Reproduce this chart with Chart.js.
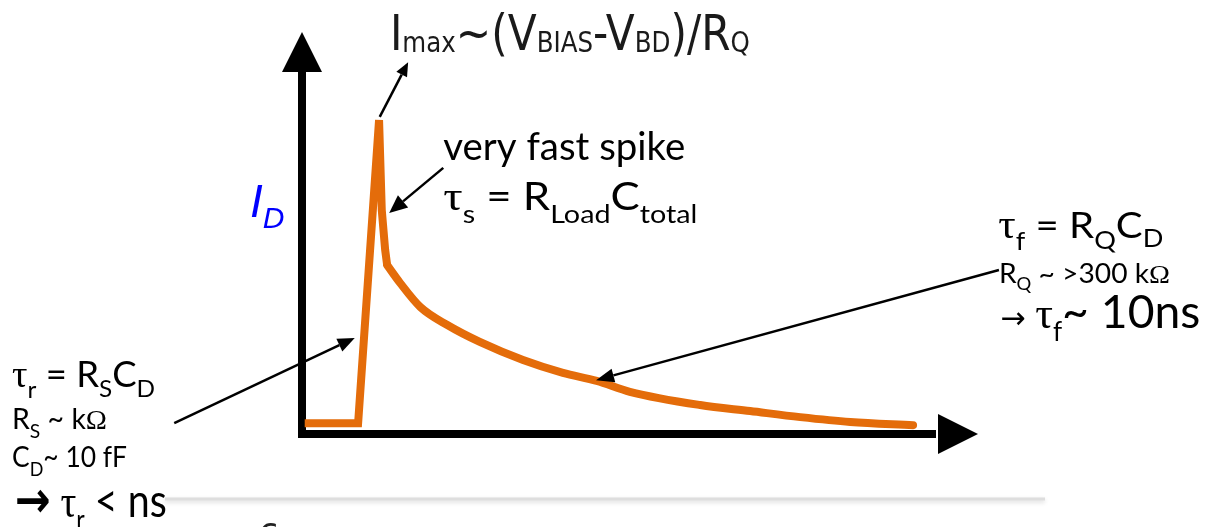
<!DOCTYPE html>
<html>
<head>
<meta charset="utf-8">
<script src="https://cdn.jsdelivr.net/npm/chart.js@4.4.1/dist/chart.umd.min.js"></script>
<style>
  html, body { margin: 0; padding: 0; background: #fff; }
  #wrap { width: 1205px; height: 527px; }
</style>
</head>
<body>
<div id="wrap"><canvas id="pulse" width="1205" height="527"></canvas></div>
<script>
// Pulse shape (arbitrary units, 0..100 on both axes)
const timeAxis = [0.4, 8.3, 11.4, 11.8, 12.3, 12.6, 14.5, 17.5, 21.5, 26.3, 32.7, 38.6, 43.6, 48.5, 58.9, 66.3, 73.7, 81.1, 90.4];
const currentId = [2.7, 2.7, 78.1, 55.7, 45.8, 42.0, 37.6, 31.6, 27.1, 22.9, 18.4, 15.2, 13.2, 10.5, 7.2, 5.7, 4.2, 3.0, 2.2];
// the spike is drawn with sharp corners, the slow tail is smoothed
const spikeEnd = 5;

const SANS = 'Lato, "Open Sans", sans-serif';
const SERIF = '"Liberation Serif", "DejaVu Serif", serif';
const GOTHIC = '"DejaVu Sans", sans-serif';

// arrows: from / to in data units, head size in px
const arrows = [
    { from: [11.5, 78.9], to: [15.7, 92.5], head: 14, half: 6 },
    { from: [20.9, 66.2], to: [12.9, 55.0], head: 18, half: 8 },
    { from: [-18.9, 2.7], to: [7.8, 23.9], head: 17, half: 7 },
    { from: [103.1, 40.8], to: [43.5, 13.4], head: 18, half: 7 }
];

// text blocks, anchored at left/baseline in data units
const labels = [
    { at: [13.0, 95.5], fit: 360, color: '#1a1a1a', runs: [
        { t: 'I', s: 50, f: GOTHIC }, { t: 'max', s: 29, f: GOTHIC, dy: 2 },
        { t: '~(V', s: 50, f: GOTHIC }, { t: 'BIAS', s: 29, f: GOTHIC, dy: 2 },
        { t: '-V', s: 50, f: GOTHIC }, { t: 'BD', s: 29, f: GOTHIC, dy: 2 },
        { t: ')/R', s: 50, f: GOTHIC }, { t: 'Q', s: 29, f: GOTHIC, dy: 2 } ] },
    { at: [20.9, 68.2], fit: 242, runs: [ { t: 'very fast spike', s: 38 } ] },
    { at: [20.9, 55.7], fit: 254, runs: [
        { t: 'τ', s: 42, f: SERIF }, { t: 's', s: 25, dy: 13 },
        { t: ' = R', s: 38 }, { t: 'Load', s: 25, dy: 13 },
        { t: 'C', s: 38 }, { t: 'total', s: 25, dy: 13 } ] },
    { at: [-7.7, 54.0], color: '#0000ff', runs: [
        { t: 'I', s: 46, f: 'Arial, "Liberation Sans", sans-serif', st: 'italic' },
        { t: 'D', s: 30, f: 'Arial, "Liberation Sans", sans-serif', st: 'italic', dy: 11 } ] },
    { at: [103.0, 48.8], fit: 165, runs: [
        { t: 'τ', s: 40, f: SERIF }, { t: 'f', s: 25, dy: 12 },
        { t: ' = R', s: 37 }, { t: 'Q', s: 25, dy: 11 },
        { t: 'C', s: 37 }, { t: 'D', s: 25, dy: 9 } ] },
    { at: [103.1, 37.6], fit: 171, runs: [
        { t: 'R', s: 26 }, { t: 'Q', s: 17, dy: 7 },
        { t: ' ~ >300 k', s: 26 }, { t: 'Ω', s: 26, f: SERIF } ] },
    { at: [103.3, 26.4], fit: 200, runs: [
        { t: '→ ', s: 30, f: GOTHIC }, { t: 'τ', s: 44, f: SERIF }, { t: 'f', s: 26, dy: 13 },
        { t: '~ 10ns', s: 46 } ] },
    { at: [-42.9, 11.7], fit: 143, runs: [
        { t: 'τ', s: 38, f: SERIF }, { t: 'r', s: 24, dy: 11 },
        { t: ' = R', s: 36 }, { t: 'S', s: 24, dy: 10 },
        { t: 'C', s: 36 }, { t: 'D', s: 24, dy: 10 } ] },
    { at: [-42.9, 1.2], fit: 95, runs: [
        { t: 'R', s: 28 }, { t: 'S', s: 19, dy: 9 },
        { t: ' ~ k', s: 28 }, { t: 'Ω', s: 28, f: SERIF } ] },
    { at: [-42.9, -8.2], fit: 115, runs: [
        { t: 'C', s: 28 }, { t: 'D', s: 19, dy: 9 }, { t: '~ 10 fF', s: 28 } ] },
    { at: [-42.5, -20.6], fit: 152, runs: [
        { t: '→', s: 50, f: GOTHIC, w: 'bold' }, { t: ' τ', s: 46, f: SERIF }, { t: 'r', s: 27, dy: 12 },
        { t: ' < ns', s: 46 } ] }
];

function fontOf(r) {
    return (r.st || 'normal') + ' ' + (r.w || 'normal') + ' ' + r.s + 'px ' + (r.f || SANS);
}

function drawRich(ctx, block, x, y) {
    let total = 0;
    for (let r of block.runs) {
        ctx.font = fontOf(r);
        total += ctx.measureText(r.t).width;
    }
    const k = block.fit ? block.fit / total : 1;
    ctx.save();
    ctx.translate(x, y);
    ctx.scale(k, 1);
    ctx.fillStyle = block.color || '#000';
    ctx.textBaseline = 'alphabetic';
    let cx = 0;
    for (let r of block.runs) {
        ctx.font = fontOf(r);
        ctx.fillText(r.t, cx, r.dy || 0);
        cx += ctx.measureText(r.t).width;
    }
    ctx.restore();
}

function drawArrow(ctx, x1, y1, x2, y2, head, half) {
    const a = Math.atan2(y2 - y1, x2 - x1);
    const bx = x2 - head * Math.cos(a), by = y2 - head * Math.sin(a);
    ctx.beginPath();
    ctx.moveTo(x1, y1);
    ctx.lineTo(bx, by);
    ctx.stroke();
    ctx.beginPath();
    ctx.moveTo(x2, y2);
    ctx.lineTo(bx + half * Math.sin(a), by - half * Math.cos(a));
    ctx.lineTo(bx - half * Math.sin(a), by + half * Math.cos(a));
    ctx.closePath();
    ctx.fill();
}

// thick axes with arrow heads, drawn under the curve
const axesPlugin = {
    id: 'axesArrows',
    beforeDatasetsDraw(chart) {
        const { ctx, chartArea: a } = chart;
        ctx.save();
        ctx.fillStyle = '#000';
        // y axis
        ctx.fillRect(a.left - 4, a.top + 38, 8, a.bottom - a.top - 38 + 4);
        ctx.beginPath();
        ctx.moveTo(a.left, a.top);
        ctx.lineTo(a.left + 20, a.top + 40);
        ctx.lineTo(a.left - 20, a.top + 40);
        ctx.closePath();
        ctx.fill();
        // x axis
        ctx.fillRect(a.left - 4, a.bottom - 4, a.right - a.left - 38, 8);
        ctx.beginPath();
        ctx.moveTo(a.right, a.bottom);
        ctx.lineTo(a.right - 40, a.bottom - 20);
        ctx.lineTo(a.right - 40, a.bottom + 20);
        ctx.closePath();
        ctx.fill();

        // faint slide edge at the bottom
        ctx.save();
        ctx.strokeStyle = '#dedede';
        ctx.lineWidth = 3;
        ctx.shadowColor = 'rgba(0,0,0,0.15)';
        ctx.shadowBlur = 4;
        ctx.shadowOffsetY = 2;
        ctx.beginPath();
        ctx.moveTo(165, 499);
        ctx.lineTo(1045, 499);
        ctx.stroke();
        ctx.restore();
        ctx.fillStyle = '#222';
        ctx.font = '34px ' + GOTHIC;
        ctx.fillText('6', 258, 548);
        ctx.restore();
    }
};

const notesPlugin = {
    id: 'notes',
    afterDatasetsDraw(chart) {
        const { ctx, scales: { x, y } } = chart;
        ctx.save();
        ctx.strokeStyle = '#000';
        ctx.fillStyle = '#000';
        ctx.lineWidth = 2.5;
        for (let ar of arrows) {
            drawArrow(ctx,
                x.getPixelForValue(ar.from[0]), y.getPixelForValue(ar.from[1]),
                x.getPixelForValue(ar.to[0]), y.getPixelForValue(ar.to[1]),
                ar.head, ar.half);
        }
        for (let b of labels) {
            drawRich(ctx, b, x.getPixelForValue(b.at[0]), y.getPixelForValue(b.at[1]));
        }
        ctx.restore();
    }
};

const points = timeAxis.map((t, i) => ({ x: t, y: currentId[i] }));
const lineStyle = {
    borderColor: '#e46c0a',
    borderWidth: 8,
    pointRadius: 0,
    fill: false,
    clip: false
};

new Chart(document.getElementById('pulse').getContext('2d'), {
    type: 'line',
    data: {
        datasets: [
            Object.assign({ data: points.slice(0, spikeEnd + 1), tension: 0, borderCapStyle: 'butt' }, lineStyle),
            Object.assign({ data: points.slice(spikeEnd), cubicInterpolationMode: 'monotone', borderCapStyle: 'round' }, lineStyle)
        ]
    },
    options: {
        responsive: false,
        animation: false,
        layout: { padding: { left: 302, right: 227, top: 32, bottom: 93 } },
        plugins: { legend: { display: false }, tooltip: { enabled: false } },
        scales: {
            x: { type: 'linear', min: 0, max: 100, display: false },
            y: { type: 'linear', min: 0, max: 100, display: false }
        }
    },
    plugins: [axesPlugin, notesPlugin]
});
</script>
</body>
</html>
